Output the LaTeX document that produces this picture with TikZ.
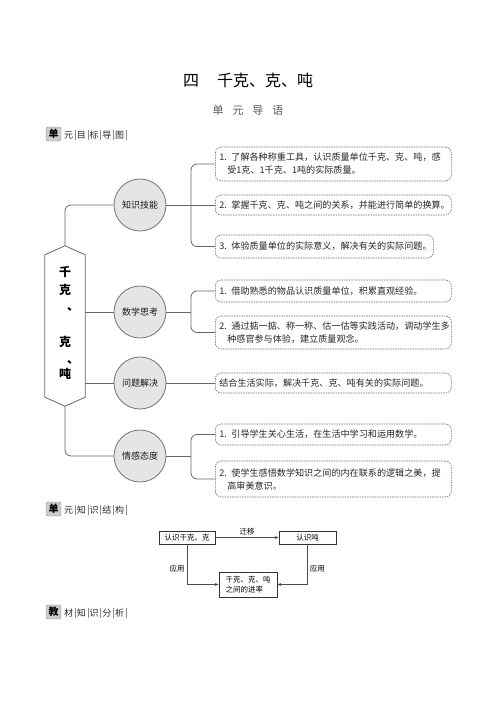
\documentclass[tikz,border=0pt]{standalone}
\usepackage{fontspec}
\setmainfont{Noto Sans CJK SC}
\usetikzlibrary{arrows.meta,calc}
\newcommand\sepbar{\hspace{1.6pt}{\color{black!45}\rule[-1.5pt]{0.5pt}{10pt}}\hspace{1.6pt}}
\begin{document}
\begin{tikzpicture}[x=1pt,y=-1pt,
  conn/.style={draw=black!60,line width=0.8pt},
  topic/.style={circle,fill=black!10,draw=black!55,line width=0.8pt,minimum size=52pt,inner sep=0pt,font=\fontsize{9}{11}\selectfont,text=black!90},
  goal/.style={draw=black!60,dash pattern=on 1.5pt off 1pt,line width=0.6pt,rounded corners=6pt,font=\fontsize{9.1}{13}\selectfont,align=left,inner xsep=4pt,inner ysep=0pt,anchor=west,text=black!85},
  badge/.style={draw=black!45,fill=black!20,rounded corners=2pt,minimum width=15pt,minimum height=14pt,inner sep=0pt,font=\fontsize{10}{10}\selectfont\bfseries},
  header/.style={anchor=west,inner sep=0pt,font=\fontsize{9}{10}\selectfont,text=black!85},
  hexch/.style={inner sep=0pt,font=\fontsize{12}{12}\selectfont\bfseries},
  sbox/.style={draw=black!80,line width=0.6pt,inner xsep=3pt,inner ysep=1pt,font=\fontsize{7.5}{10}\selectfont,align=left},
  slab/.style={inner sep=2pt,font=\fontsize{7.5}{9}\selectfont},
  sarrow/.style={draw=black!70,line width=0.6pt,-{Stealth[length=4pt,width=3pt]}}]
\useasboundingbox (0,0) rectangle (496,702);
% titles
\node[font=\fontsize{16}{16}\selectfont] (title) at (248,80) {四\hspace{18pt}千克、克、吨};
\node[font=\fontsize{11}{11}\selectfont,text=black!65] (sub) at (248,110) {单\hspace{9pt}元\hspace{9pt}导\hspace{9pt}语};
% section 1 header
\node[badge] (bd1) at (53.5,134) {单};
\node[header] (hd1) at (64,135) {元\sepbar 目\sepbar 标\sepbar 导\sepbar 图\sepbar};
% hexagon
\node[minimum width=40pt,minimum height=160pt,inner sep=0pt] (hex) at (65,326) {};
\draw[conn,fill=white] (hex.north) -- ($(hex.north east)+(0,9)$) -- ($(hex.south east)+(0,-9)$) -- (hex.south) -- ($(hex.south west)+(0,-9)$) -- ($(hex.north west)+(0,9)$) -- cycle;
\node[hexch] (h1) at (65,272) {千};
\node[hexch] (h2) at (65,290) {克};
\node[hexch] (h3) at (73,309) {、};
\node[hexch] (h4) at (65,342) {克};
\node[hexch] (h5) at (73,362) {、};
\node[hexch] (h6) at (65,374) {吨};
% topic circles
\node[topic] (c1) at (140,205) {知识技能};
\node[topic] (c2) at (140,312) {数学思考};
\node[topic] (c3) at (140,383) {问题解决};
\node[topic] (c4) at (140,456) {情感态度};
% goal boxes
\node[goal,text width=228pt,minimum height=34pt] (b1) at (215,164) {1. 了解各种称重工具，认识质量单位千克、克、吨，感\\\hspace*{8pt}受1克、1千克、1吨的实际质量。};
\node[goal,text width=228pt,minimum height=20pt] (b2) at (215,205) {2. 掌握千克、克、吨之间的关系，并能进行简单的换算。};
\node[goal,text width=210pt,minimum height=23pt] (b3) at (215,246.5) {\mbox{3. 体验质量单位的实际意义，解决有关的实际问题。}};
\node[goal,text width=228pt,minimum height=22pt] (b4) at (215,291) {1. 借助熟悉的物品认识质量单位，积累直观经验。};
\node[goal,text width=228pt,minimum height=33pt] (b5) at (215,332.5) {2. 通过掂一掂、称一称、估一估等实践活动，调动学生多\\\hspace*{8pt}种感官参与体验，建立质量观念。};
\node[goal,text width=228pt,minimum height=20pt] (b6) at (215,383) {结合生活实际，解决千克、克、吨有关的实际问题。};
\node[goal,text width=228pt,minimum height=21pt] (b7) at (215,434.5) {1. 引导学生关心生活，在生活中学习和运用数学。};
\node[goal,text width=228pt,minimum height=36pt] (b8) at (215,479) {2. 使学生感悟数学知识之间的内在联系的逻辑之美，提\\\hspace*{8pt}高审美意识。};
% hexagon to circles
\draw[conn,rounded corners=6pt] (hex.north) |- (c1.west);
\draw[conn] (c2.west -| hex.east) -- (c2.west);
\draw[conn] (c3.west -| hex.east) -- (c3.west);
\draw[conn,rounded corners=6pt] (hex.south) |- (c4.west);
% circles to boxes
\draw[conn] (c1.east) -- (b2.west);
\draw[conn,rounded corners=6pt] (b1.west) -- ++(-24,0) |- (b3.west);
\draw[conn] (c2.east) -- ($(c2.east -| b4.west)+(-24,0)$);
\draw[conn,rounded corners=6pt] (b4.west) -- ++(-24,0) |- (b5.west);
\draw[conn] (c3.east) -- (b6.west);
\draw[conn] (c4.east) -- ($(c4.east -| b7.west)+(-24,0)$);
\draw[conn,rounded corners=6pt] (b7.west) -- ++(-24,0) |- (b8.west);
% section 2 header
\node[badge] (bd2) at (53.5,509) {单};
\node[header] (hd2) at (64,510) {元\sepbar 知\sepbar 识\sepbar 结\sepbar 构\sepbar};
% structure diagram
\node[sbox,minimum width=56pt,minimum height=13pt] (sA) at (187,537.5) {认识千克、克};
\node[sbox,minimum width=57pt,minimum height=13pt] (sB) at (307.5,537.5) {认识吨};
\node[sbox,minimum width=58pt,minimum height=25pt] (sC) at (248,584.5) {千克、克、吨\\之间的进率};
\draw[sarrow] (sA.east) -- node[slab,above] (l1) {迁移} (sB.west);
\draw[sarrow] (sA.south) |- node[slab,pos=0.3,left] (l2) {应用} (sC.west);
\draw[sarrow] (sB.south) |- node[slab,pos=0.3,right] (l3) {应用} (sC.east);
% section 3 header
\node[badge] (bd3) at (53.5,612) {教};
\node[header] (hd3) at (64,613) {材\sepbar 知\sepbar 识\sepbar 分\sepbar 析\sepbar};
\end{tikzpicture}
\end{document}
